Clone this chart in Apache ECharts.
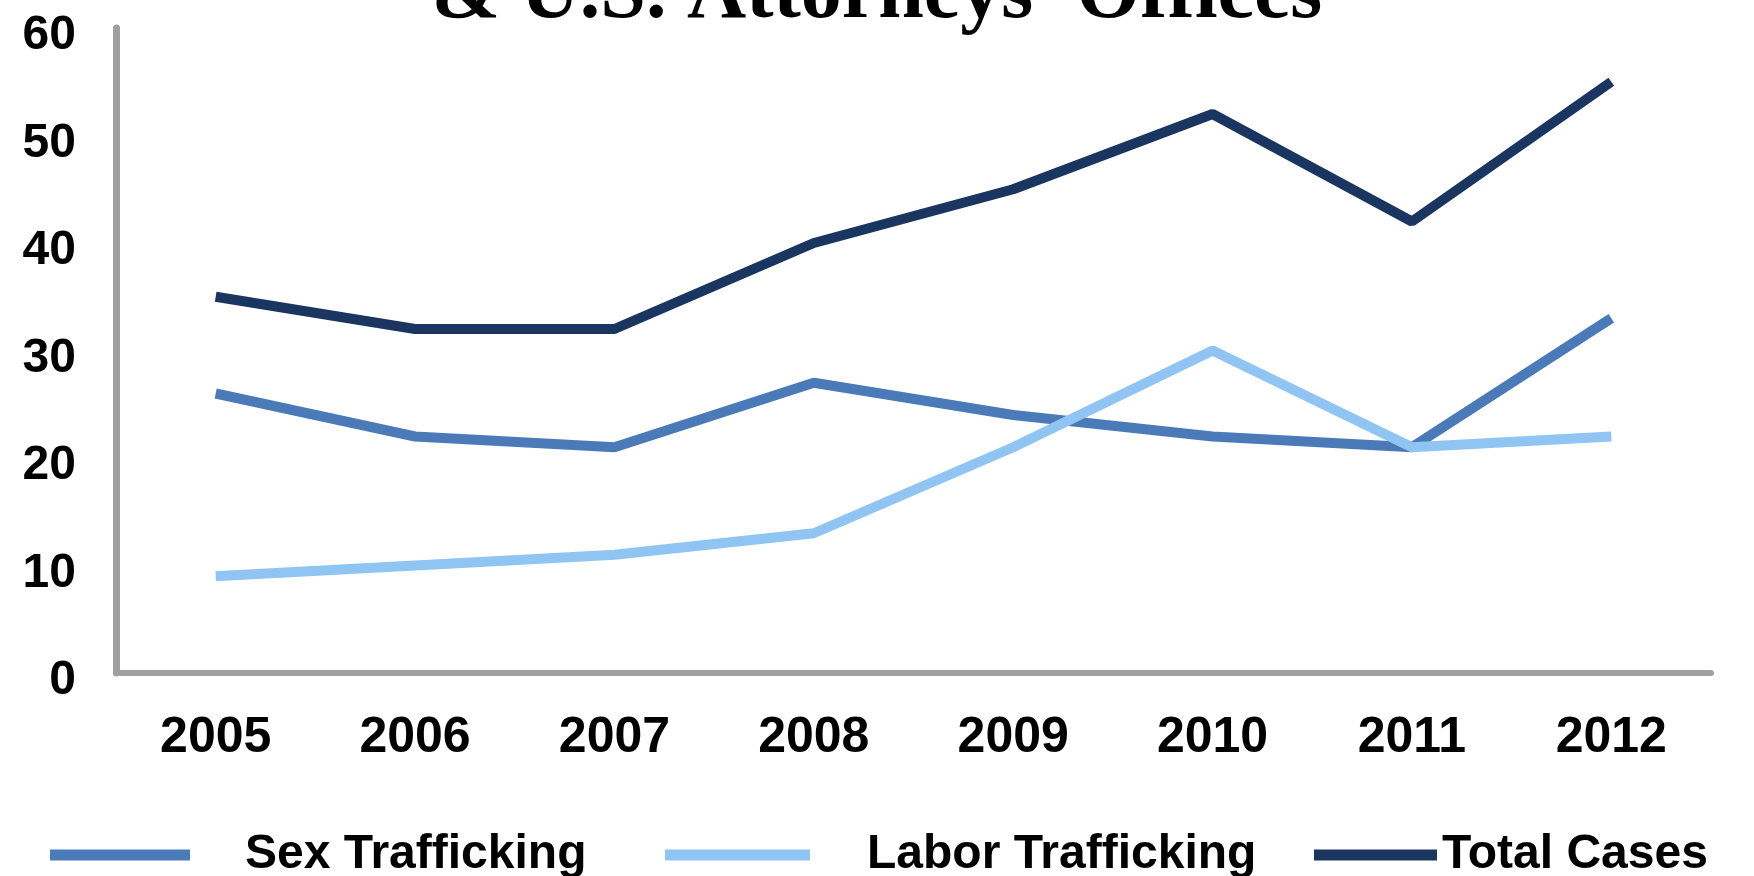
<!DOCTYPE html>
<html>
<head>
<meta charset="utf-8">
<script src="https://cdn.jsdelivr.net/npm/echarts@6/dist/echarts.min.js"></script>
<style>
html,body{margin:0;padding:0;background:#fff;}
#chart{width:1754px;height:876px;}
</style>
</head>
<body>
<div id="chart"></div>
<script>
const titleText = "& U.S. Attorneys' Offices";
const years = ["2005","2006","2007","2008","2009","2010","2011","2012"];
const sexTrafficking = [26, 22, 21, 27, 24, 22, 21, 33];
const laborTrafficking = [9, 10, 11, 13, 21, 30, 21, 22];
const totalCases = [35, 32, 32, 40, 45, 52, 42, 55];
const yTicks = [0, 10, 20, 30, 40, 50, 60];

const colors = { sex: '#4a7bb8', labor: '#90c4f2', total: '#1a3560' };
const font = '"Liberation Sans", Arial, sans-serif';

const chart = echarts.init(document.getElementById('chart'));

function legendItem(name, left, width, pad) {
  return {
    data: [name],
    left: left,
    top: 826,
    itemWidth: width,
    itemHeight: 11,
    icon: 'rect',
    itemStyle: { borderWidth: 0 },
    textStyle: { fontFamily: font, fontWeight: 'bold', fontSize: 48, color: '#000', padding: [0, 0, 0, pad] },
    selectedMode: false
  };
}

chart.setOption({
  animation: false,
  backgroundColor: '#fff',
  title: {
    text: titleText,
    left: 'center',
    top: -50,
    textStyle: { fontFamily: '"Liberation Serif", "Times New Roman", serif', fontWeight: 'bold', fontSize: 82, color: '#000' }
  },
  legend: [
    legendItem('Sex Trafficking', 45, 140, 50),
    legendItem('Labor Trafficking', 660, 145, 52),
    legendItem('Total Cases', 1309, 123, 0)
  ],
  grid: { left: 116, right: 43, top: 28, bottom: 203, containLabel: false },
  xAxis: {
    type: 'category',
    data: years,
    boundaryGap: true,
    axisLine: { lineStyle: { color: '#a0a0a0', width: 6 } },
    axisTick: { show: false },
    axisLabel: { margin: 40, fontFamily: font, fontWeight: 'bold', fontSize: 50, color: '#000' }
  },
  yAxis: {
    type: 'value',
    min: yTicks[0],
    max: yTicks[yTicks.length - 1],
    interval: 10,
    axisLine: { show: true, lineStyle: { color: '#a0a0a0', width: 7 } },
    axisTick: { show: false },
    splitLine: { show: false },
    axisLabel: { margin: 40, verticalAlign: 'top', lineHeight: 16, fontFamily: font, fontWeight: 'bold', fontSize: 48, color: '#000' }
  },
  series: [
    { name: 'Sex Trafficking', type: 'line', data: sexTrafficking, symbol: 'none', lineStyle: { color: colors.sex, width: 10 }, itemStyle: { color: colors.sex } },
    { name: 'Labor Trafficking', type: 'line', data: laborTrafficking, symbol: 'none', lineStyle: { color: colors.labor, width: 10 }, itemStyle: { color: colors.labor } },
    { name: 'Total Cases', type: 'line', data: totalCases, symbol: 'none', lineStyle: { color: colors.total, width: 10 }, itemStyle: { color: colors.total } }
  ]
});
</script>
</body>
</html>
